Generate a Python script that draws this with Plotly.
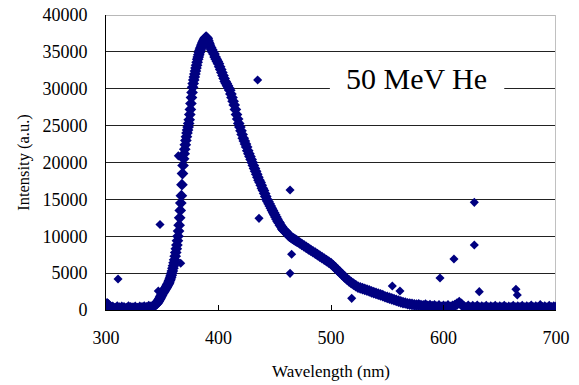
import plotly.graph_objects as go

# ---- data ----
wavelength = [
    300, 301, 302, 303, 304, 306, 308, 310, 312, 314, 316, 318, 320, 322, 324, 326, 328, 330,
    332, 334, 336, 338, 340, 342, 344,
    345, 345.5, 346, 346.5, 347, 347.5, 348, 348.5, 349, 349.5, 350, 350.5, 351, 351.5, 352,
    352.5, 353, 353.5, 354, 354.5, 355, 355.5, 356, 356.5, 357, 357.5, 358, 358.5, 359, 359.5,
    360, 360.5, 361, 361.5, 362, 362.5, 363, 363.5, 364, 364.5, 365, 365.5, 366, 366.5, 367,
    367.5, 368, 368.5, 369, 369.5, 370, 370.5, 371, 371.5, 372, 372.5, 373, 373.5, 374, 374.5,
    375, 375.5, 376, 376.5, 377, 377.5, 378, 378.5, 379, 379.5, 380, 380.5, 381, 381.5, 382,
    382.5, 383, 383.5, 384, 384.5, 385, 385.5, 386, 386.5, 387, 387.5, 388, 388.5, 389, 389.5,
    390, 390.5, 391, 391.5, 392,
    393, 394, 395, 396, 397, 398, 399, 400, 401, 402, 403, 404, 405, 406, 407, 408, 409, 410,
    411, 412, 413, 414, 415, 416, 417, 418, 419, 420, 421, 422, 423, 424, 425, 426, 427, 428,
    429, 430, 431, 432, 433, 434, 435, 436, 437, 438, 439, 440, 441, 442, 443, 444, 445, 446,
    447, 448, 449, 450, 451, 452, 453, 454, 455, 456, 457, 458, 459, 460, 461, 462, 463, 464,
    465, 466, 467, 468, 469, 470,
    472, 474, 476, 478, 480, 482, 484, 486, 488, 490, 492, 494, 496, 498, 500, 502, 504, 506,
    508, 510, 512, 514, 516, 518, 520, 522, 524, 526, 528, 530, 532, 534, 536, 538, 540, 542,
    544, 546, 548, 550, 552, 554, 556, 558, 560,
    562, 564, 566, 568, 570, 572, 574, 576, 578, 580, 582, 584, 586, 588, 590, 592, 594, 596,
    598, 600, 602, 604, 606, 608, 610, 612, 614, 616, 618, 620, 622, 624, 626, 628, 630, 632,
    634, 636, 638, 640, 642, 644, 646, 648, 650, 652, 654, 656, 658, 660, 662, 664, 666, 668,
    670, 672, 674, 676, 678, 680, 682, 684, 686, 688, 690, 692, 694, 696, 698, 700,
]
intensity = [
    500, 850, 700, 450, 300, 350, 200, 400, 250, 350, 300, 200, 400, 300, 250, 350, 200, 350,
    300, 400, 300, 450, 400, 550, 700,
    850, 950, 1100, 1200, 1350, 1450, 1600, 1750, 1900, 2050, 2200, 2300, 2450, 2550, 2700,
    2800, 2950, 3050, 3200, 3350, 3500, 3600, 3800, 4000, 4200, 4450, 4700, 5000, 5300, 5650,
    6000, 6400, 6800, 7300, 7800, 8300, 8800, 9400, 10000, 10700, 11500, 12500, 13500, 14500, 15500,
    17000, 18500, 19600, 20500, 21200, 21800, 22400, 23000, 23500, 24000, 24400, 24800, 25300, 25800, 26500,
    27200, 28000, 28800, 29500, 30200, 30700, 31200, 31600, 32000, 32400, 32800, 33200, 33600, 34000, 34300,
    34600, 34900, 35200, 35400, 35600, 35800, 36000, 36200, 36350, 36500, 36650, 36800, 36900, 37000, 36900,
    36800, 36550, 36300, 36100, 35900,
    35600, 35300, 35000, 34700, 34300, 34000, 33700, 33400, 33000, 32600, 32200, 31800, 31400, 31000, 30700, 30400, 30100, 29800,
    29300, 28800, 28300, 27800, 27200, 26500, 25900, 25300, 24800, 24300, 23800, 23300, 22900, 22500, 22100, 21600, 21200, 20800,
    20400, 20000, 19600, 19200, 18800, 18400, 18000, 17600, 17300, 16900, 16500, 16200, 15800, 15400, 15000, 14700, 14400, 14100,
    13800, 13500, 13200, 12900, 12600, 12300, 12000, 11800, 11500, 11300, 11000, 10800, 10700, 10600, 10400, 10200, 10000, 9900,
    9800, 9700, 9600, 9500, 9400, 9300,
    9100, 8900, 8700, 8500, 8300, 8100, 7900, 7700, 7500, 7300, 7100, 6900, 6700, 6500, 6300, 6000, 5700, 5400,
    5100, 4800, 4500, 4200, 3950, 3700, 3500, 3300, 3100, 3000, 2900, 2800, 2700, 2600, 2450, 2350, 2250, 2150,
    2050, 1950, 1800, 1700, 1600, 1500, 1400, 1300, 1200,
    1100, 1000, 950, 850, 800, 750, 700, 650, 700, 600, 550, 650, 500, 600, 450, 550, 400, 550,
    350, 500, 400, 550, 350, 500, 600, 800, 1000, 750, 450, 300, 500, 250, 450, 300, 500, 250,
    400, 300, 450, 250, 400, 300, 450, 250, 400, 300, 450, 250, 350, 300, 450, 250, 400, 300,
    450, 250, 400, 300, 500, 250, 400, 300, 550, 300, 400, 250, 450, 300, 400, 350,
]

outlier_wl = [310.7, 348, 346.5, 364.3, 366.4, 434.8, 463.6, 436, 465, 463.6, 518.4,
              554.5, 561.3, 627.4, 627.4, 609.3, 596.9, 631.8, 664.4, 665.6]
outlier_int = [4200, 11600, 2580, 20900, 6330, 31190, 16270, 12430, 7550, 4970, 1580,
               3250, 2580, 14600, 8810, 6915, 4340, 2490, 2800, 2030]

x_ticks = [300, 400, 500, 600, 700]
label_text = "50 MeV He"

SERIF = "Liberation Serif"
NAVY = "#000080"

fig = go.Figure()
fig.add_trace(go.Scatter(
    x=wavelength, y=intensity, mode="markers",
    marker=dict(symbol="diamond", size=9, color=NAVY, line=dict(width=0)),
    showlegend=False, hoverinfo="skip"))
fig.add_trace(go.Scatter(
    x=outlier_wl, y=outlier_int, mode="markers",
    marker=dict(symbol="diamond", size=7, color=NAVY, line=dict(width=0)),
    showlegend=False, hoverinfo="skip"))

fig.update_layout(
    width=579, height=385,
    margin=dict(l=106, r=23, t=15, b=75),
    paper_bgcolor="white", plot_bgcolor="white",
    font=dict(family=SERIF, color="black"),
    xaxis=dict(
        range=[300, 700], tickvals=x_ticks, ticks="inside", ticklen=5,
        tickcolor="black", showline=True, linecolor="black", linewidth=1,
        showgrid=False, zeroline=False, tickfont=dict(size=18, family=SERIF),
        ticklabelstandoff=11, automargin=False,
        title=dict(text="Wavelength (nm)", font=dict(size=17, family=SERIF), standoff=18),
    ),
    yaxis=dict(
        range=[0, 40000], dtick=5000, tickformat="d", ticks="", showline=True,
        linecolor="black", linewidth=1, showgrid=True, gridcolor="#222222", gridwidth=1,
        zeroline=False, tickfont=dict(size=18, family=SERIF), ticklabelstandoff=14,
        automargin=False,
        title=dict(text="Intensity (a.u.)", font=dict(size=16.5, family=SERIF), standoff=8),
    ),
    shapes=[
        dict(type="line", xref="x", yref="y", x0=300, x1=700, y0=40000, y1=40000,
             line=dict(color="#b8b8b8", width=2), layer="between"),
        dict(type="line", xref="x", yref="y", x0=700, x1=700, y0=0, y1=40000,
             line=dict(color="#c0c0c0", width=2), layer="between"),
        dict(type="rect", xref="x", yref="y", x0=499, x1=654, y0=28200, y1=31800,
             fillcolor="white", line=dict(width=0), layer="between"),
    ],
    annotations=[
        dict(text=label_text, x=575.6, y=31350, xref="x", yref="y", showarrow=False,
             font=dict(size=30, family=SERIF, color="black"), xanchor="center", yanchor="middle"),
    ],
)

fig.write_html("out.html")
